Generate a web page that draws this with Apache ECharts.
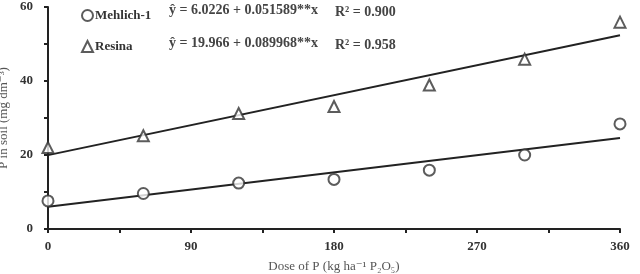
<!DOCTYPE html>
<html>
<head>
<meta charset="utf-8">
<script src="https://cdn.jsdelivr.net/npm/echarts@6/dist/echarts.min.js"></script>
<style>
  html, body { margin: 0; padding: 0; background: #fff; }
  #chart { width: 640px; height: 274px; }
</style>
</head>
<body>
<div id="chart"></div>
<script>
// doses of P (kg ha-1 P2O5)
var doses = [0, 60, 120, 180, 240, 300, 360];
// observed P in soil
var mehlich = [7.6, 9.6, 12.4, 13.4, 15.9, 20.0, 28.4];
var resina = [22.0, 25.2, 31.2, 33.1, 38.9, 45.9, 55.9];
// fitted lines, end points at dose 0 and 360
var fitDoses = [0, 360];
var fitMehlich = [6.02, 24.59];
var fitResina = [19.97, 52.36];
// texts
var eqMehlich = 'ŷ = 6.0226 + 0.051589**x';
var eqResina = 'ŷ = 19.966 + 0.089968**x';
var r2Mehlich = 'R² = 0.900';
var r2Resina = 'R² = 0.958';

function pairs(xs, ys) {
  var out = [];
  for (var i = 0; i < xs.length; i++) {
    out.push([xs[i], ys[i]]);
  }
  return out;
}

var serif = '"Liberation Serif", "DejaVu Serif", serif';
var ink = '#222';
var mark = '#333';

var chart = echarts.init(document.getElementById('chart'));
var option = {
  animation: false,
  textStyle: { fontFamily: serif },
  grid: { left: 48, right: 20, top: 7, bottom: 45, containLabel: false, outerBoundsMode: 'none' },
  legend: {
    orient: 'vertical',
    left: 76,
    top: 4,
    itemGap: 18,
    itemWidth: 11,
    itemHeight: 11,
    textStyle: { fontFamily: serif, fontWeight: 'bold', fontSize: 13, color: '#333', padding: [0, 0, 0, -3] },
    data: [
      { name: 'Mehlich-1', icon: 'emptyCircle', itemStyle: { color: mark, borderWidth: 1.3 } },
      { name: 'Resina', icon: 'emptyTriangle', itemStyle: { color: mark, borderWidth: 1.3 } }
    ]
  },
  graphic: [
    { type: 'text', left: 169, top: 3, style: { text: eqMehlich, font: 'bold 14px ' + serif, fill: '#444' } },
    { type: 'text', left: 335, top: 5, style: { text: r2Mehlich, font: 'bold 14px ' + serif, fill: '#444' } },
    { type: 'text', left: 169, top: 36, style: { text: eqResina, font: 'bold 14px ' + serif, fill: '#444' } },
    { type: 'text', left: 335, top: 38, style: { text: r2Resina, font: 'bold 14px ' + serif, fill: '#444' } }
  ],
  xAxis: {
    type: 'value',
    min: 0,
    max: 360,
    interval: 90,
    name: 'Dose of P (kg ha⁻¹ P₂O₅)',
    nameLocation: 'middle',
    nameGap: 31,
    nameMoveOverlap: false,
    nameTextStyle: { fontFamily: serif, fontSize: 13, color: '#555' },
    axisLine: { lineStyle: { color: ink, width: 2 } },
    axisTick: { inside: false, length: 4, lineStyle: { color: ink, width: 2 } },
    minorTick: { show: true, splitNumber: 2, length: 4, lineStyle: { color: ink, width: 2 } },
    axisLabel: { fontFamily: serif, fontWeight: 'bold', fontSize: 13, color: '#333', margin: 11 },
    splitLine: { show: false }
  },
  yAxis: {
    type: 'value',
    min: 0,
    max: 60,
    interval: 20,
    name: 'P in soil (mg dm⁻³)',
    nameLocation: 'middle',
    nameGap: 38,
    nameMoveOverlap: false,
    nameTextStyle: { fontFamily: serif, fontSize: 13, color: '#555' },
    axisLine: { show: true, lineStyle: { color: ink, width: 2 } },
    axisTick: { show: true, length: 4, lineStyle: { color: ink, width: 2 } },
    minorTick: { show: true, splitNumber: 2, length: 4, lineStyle: { color: ink, width: 2 } },
    axisLabel: { fontFamily: serif, fontWeight: 'bold', fontSize: 13, color: '#333', margin: 15 },
    splitLine: { show: false }
  },
  series: [
    {
      name: 'Mehlich-1fit',
      type: 'line',
      data: pairs(fitDoses, fitMehlich),
      showSymbol: false,
      lineStyle: { color: ink, width: 2 },
      z: 1
    },
    {
      name: 'Resinafit',
      type: 'line',
      data: pairs(fitDoses, fitResina),
      showSymbol: false,
      lineStyle: { color: ink, width: 2 },
      z: 1
    },
    {
      name: 'Mehlich-1',
      type: 'scatter',
      symbol: 'emptyCircle',
      symbolSize: 11,
      data: pairs(doses, mehlich),
      itemStyle: { color: mark, borderWidth: 1.3 },
      z: 3
    },
    {
      name: 'Resina',
      type: 'scatter',
      symbol: 'emptyTriangle',
      symbolSize: 11,
      data: pairs(doses, resina),
      itemStyle: { color: mark, borderWidth: 1.3 },
      z: 3
    }
  ]
};
chart.setOption(option);
</script>
</body>
</html>
